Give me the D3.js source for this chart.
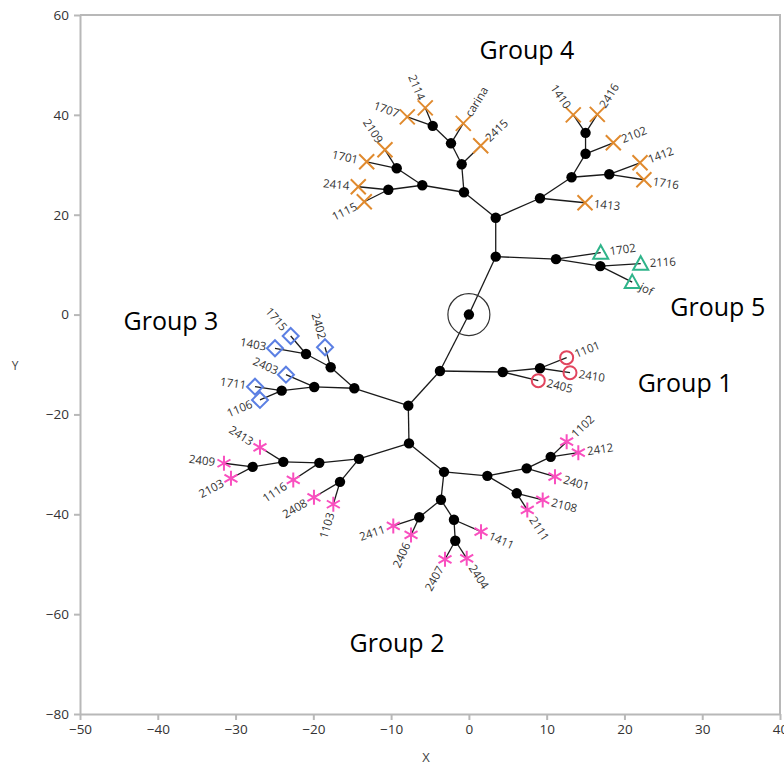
<!DOCTYPE html>
<html>
<head>
<meta charset="utf-8">
<script src="https://cdn.jsdelivr.net/npm/d3@7"></script>
<style>
  html, body { margin: 0; padding: 0; background: #fff; }
  svg { display: block; }
</style>
</head>
<body>
<svg id="chart" width="784" height="765"></svg>
<script>
// ---- Tree data: internal (branch) nodes ----
const nodeIds    = ["root","k1","i5","i4","i3","i2","i1","i6","i7","i8","j5","j3","j2","j1","j4","k2","k3",
                    "n1","n2","n3","m0","l3","l2","l1","l4","l5","q0","p4","p3","p2","p1","p5",
                    "r1","r2","r3","r4","r5","s1","s2","s3","s4"];
const nodeX      = [0, 3.45, 3.45, -0.63, -0.93, -2.30, -4.65, -5.99, -9.28, -10.36, 9.14, 13.2, 15.0, 15.0, 18.05, 11.2, 16.9,
                    -3.72, 4.35, 9.14, -7.79, -14.73, -17.77, -20.94, -19.88, -24.07, -7.70, -14.13, -19.23, -23.86, -27.80, -16.57,
                    -3.20, 2.37, 7.43, 10.52, 6.15, -3.59, -6.38, -1.92, -1.75];
const nodeY      = [0, 11.6, 19.4, 24.5, 30.1, 34.3, 37.8, 25.9, 29.3, 25.0, 23.3, 27.5, 32.2, 36.4, 28.1, 11.1, 9.7,
                    -11.3, -11.5, -10.75, -18.25, -14.76, -10.55, -7.89, -14.50, -15.24, -25.8, -28.9, -29.7, -29.5, -30.5, -33.5,
                    -31.5, -32.3, -30.8, -28.5, -35.8, -37.1, -40.6, -41.1, -45.3];
const nodeParent = [null, "root", "k1", "i5", "i4", "i3", "i2", "i4", "i6", "i6", "i5", "j5", "j3", "j2", "j3", "k1", "k2",
                    "root", "n1", "n2", "n1", "m0", "l3", "l2", "l3", "l4", "m0", "q0", "p4", "p3", "p2", "p4",
                    "q0", "r1", "r2", "r3", "r2", "r1", "s1", "s1", "s3"];

// ---- Tree data: leaves (labelled samples) ----
const leafNames  = ["1707","2114","carina","2415","2109","1701","2414","1115","1410","2416","2102","1412","1716","1413",
                    "1702","2116","jof",
                    "1715","1403","2402","2403","1711","1106",
                    "1101","2410","2405",
                    "2413","2409","2103","1116","2408","1103","2411","2406","2407","2404","1411","2111","2108","2401","1102","2412"];
const leafX      = [-7.92, -5.61, -0.72, 1.52, -10.79, -13.14, -14.22, -13.45, 13.42, 16.51, 18.57, 22.0, 22.5, 14.93,
                    16.95, 22.09, 21.0,
                    -22.91, -24.93, -18.50, -23.52, -27.5, -26.86,
                    12.57, 13.0, 8.92,
                    -26.86, -31.49, -30.59, -22.58, -19.92, -17.43, -9.72, -7.44, -3.07, -0.28, 1.56, 7.51, 9.49, 11.07, 12.57, 14.07];
const leafY      = [39.6, 41.4, 38.3, 33.8, 33.0, 30.6, 25.6, 22.6, 40.0, 40.1, 34.4, 30.4, 27.0, 22.4,
                    12.4, 10.2, 6.5,
                    -4.29, -6.75, -6.55, -12.04, -14.44, -17.10,
                    -8.63, -11.64, -13.24,
                    -26.58, -29.78, -32.79, -33.13, -36.59, -37.99, -42.34, -44.14, -49.01, -48.81, -43.48, -39.13, -37.13, -32.47, -25.46, -27.66];
const leafParent = ["i1","i1","i2","i3","i7","i7","i8","i8","j1","j1","j2","j4","j4","j5",
                    "k2","k3","k3",
                    "l1","l1","l2","l4","l5","l5",
                    "n3","n3","n2",
                    "p2","p1","p1","p3","p5","p5","s2","s2","s4","s4","s3","r5","r5","r3","r4","r4"];
const leafGroup  = [4,4,4,4,4,4,4,4,4,4,4,4,4,4,
                    5,5,5,
                    3,3,3,3,3,3,
                    1,1,1,
                    2,2,2,2,2,2,2,2,2,2,2,2,2,2,2,2];

// ---- Group annotations (data coordinates) ----
const groupIds    = [1, 2, 3, 4, 5];
const groupNames  = ["Group 1", "Group 2", "Group 3", "Group 4", "Group 5"];
const groupLabelX = [27.8, -9.24, -38.3, 7.47, 32.0];
const groupLabelY = [-13.7, -65.8, -1.3, 53.0, 1.5];

// ---- Axis ticks ----
const xTicks = [-50, -40, -30, -20, -10, 0, 10, 20, 30, 40];
const yTicks = [-80, -60, -40, -20, 0, 20, 40, 60];

// ---- Styling ----
const groupColor = {1: "#e2455e", 2: "#f94fbf", 3: "#5b7fe3", 4: "#e08a2e", 5: "#2fb48a"};
const axisColor = "#b8b8b8";
const textFont = "'Open Sans', 'Noto Sans', sans-serif";

const width = 784, height = 765;
const margin = {top: 15, right: 4, bottom: 51, left: 80};

const svg = d3.select("#chart");

const x = d3.scaleLinear().domain([-50, 40]).range([margin.left, width - margin.right]);
const y = d3.scaleLinear().domain([-80, 60]).range([height - margin.bottom, margin.top]);

// Frame (top and right borders)
svg.append("path")
  .attr("d", `M${x(-50)},${y(60)}H${x(40)}V${y(-80)}`)
  .attr("fill", "none").attr("stroke", axisColor).attr("stroke-width", 2);

// Axes
const xAxis = svg.append("g")
  .attr("transform", `translate(0,${y(-80)})`)
  .call(d3.axisBottom(x).tickValues(xTicks).tickSize(6).tickSizeOuter(0).tickPadding(4));
const yAxis = svg.append("g")
  .attr("transform", `translate(${x(-50)},0)`)
  .call(d3.axisLeft(y).tickValues(yTicks).tickSize(6).tickSizeOuter(0).tickPadding(5));
[xAxis, yAxis].forEach(g => {
  g.select(".domain").attr("stroke", axisColor).attr("stroke-width", 2);
  g.selectAll(".tick line").attr("stroke", axisColor).attr("stroke-width", 2);
  g.selectAll(".tick text").attr("fill", "#333").style("font-family", textFont).style("font-size", "13.5px");
});

// Axis titles
svg.append("text").attr("x", (x(-50) + x(40)) / 2 - 4).attr("y", 762)
  .attr("text-anchor", "middle").attr("fill", "#444")
  .style("font-family", textFont).style("font-size", "13px").text("X");
svg.append("text").attr("x", 15).attr("y", 370)
  .attr("text-anchor", "middle").attr("fill", "#444")
  .style("font-family", textFont).style("font-size", "12px").text("Y");

// Build node lookup
const pos = {};
nodeIds.forEach((id, i) => { pos[id] = {x: nodeX[i], y: nodeY[i]}; });

const plot = svg.append("g");

// Branches: internal edges, then edges to leaves
const edges = [];
nodeIds.forEach((id, i) => { if (nodeParent[i]) edges.push([pos[nodeParent[i]], pos[id]]); });
leafNames.forEach((n, i) => edges.push([pos[leafParent[i]], {x: leafX[i], y: leafY[i]}]));

plot.selectAll("line.edge").data(edges).join("line")
  .attr("class", "edge")
  .attr("x1", d => x(d[0].x)).attr("y1", d => y(d[0].y))
  .attr("x2", d => x(d[1].x)).attr("y2", d => y(d[1].y))
  .attr("stroke", "#1a1a1a").attr("stroke-width", 1.3);

// Root ring
plot.append("circle")
  .attr("cx", x(nodeX[0])).attr("cy", y(nodeY[0])).attr("r", 21)
  .attr("fill", "none").attr("stroke", "#333").attr("stroke-width", 1.2);

// Branch nodes
plot.selectAll("circle.node").data(nodeIds).join("circle")
  .attr("class", "node")
  .attr("cx", (d, i) => x(nodeX[i])).attr("cy", (d, i) => y(nodeY[i]))
  .attr("r", 5.2).attr("fill", "#000");

// Leaf markers
const leaves = leafNames.map((n, i) => ({
  name: n, x: leafX[i], y: leafY[i], parent: pos[leafParent[i]], group: leafGroup[i]
}));

function markerPath(group) {
  const s = 7.5;
  if (group === 4) return `M${-s},${-s}L${s},${s}M${-s},${s}L${s},${-s}`;
  if (group === 5) return `M0,${-s}L${s},${s * 0.8}L${-s},${s * 0.8}Z`;
  if (group === 3) return `M0,${-s - 0.5}L${s + 0.5},0L0,${s + 0.5}L${-s - 0.5},0Z`;
  if (group === 2) {
    const a = s * Math.cos(Math.PI / 6), b = s * Math.sin(Math.PI / 6);
    return `M0,${-s}L0,${s}M${-a},${-b}L${a},${b}M${-a},${b}L${a},${-b}`;
  }
  return null;
}

const mk = plot.selectAll("g.leaf").data(leaves).join("g")
  .attr("class", "leaf")
  .attr("transform", d => `translate(${x(d.x)},${y(d.y)})`);

mk.each(function(d) {
  const g = d3.select(this);
  if (d.group === 1) {
    g.append("circle").attr("r", 6.5).attr("fill", "none")
      .attr("stroke", groupColor[1]).attr("stroke-width", 2);
  } else {
    g.append("path").attr("d", markerPath(d.group)).attr("fill", "none")
      .attr("stroke", groupColor[d.group]).attr("stroke-width", 2).attr("stroke-linejoin", "miter");
  }
});

// Leaf labels, oriented along the incoming branch
plot.selectAll("text.leafLabel").data(leaves).join("text")
  .attr("class", "leafLabel")
  .each(function(d) {
    const px = x(d.x), py = y(d.y);
    const dx = px - x(d.parent.x), dy = py - y(d.parent.y);
    let ang = Math.atan2(dy, dx) * 180 / Math.PI;
    const len = Math.hypot(dx, dy);
    const off = 9;
    const tx = px + dx / len * off, ty = py + dy / len * off;
    let anchor = "start";
    if (ang > 90 || ang < -90) { ang += 180; anchor = "end"; }
    d3.select(this)
      .attr("transform", `translate(${tx},${ty}) rotate(${ang})`)
      .attr("text-anchor", anchor)
      .attr("dy", "0.35em");
  })
  .attr("fill", "#333")
  .style("font-family", textFont).style("font-size", "11.5px")
  .text(d => d.name);

// Group annotations
svg.selectAll("text.group").data(groupIds).join("text")
  .attr("class", "group")
  .attr("x", (d, i) => x(groupLabelX[i])).attr("y", (d, i) => y(groupLabelY[i]))
  .attr("text-anchor", "middle").attr("dy", "0.35em")
  .attr("fill", "#000")
  .style("font-family", textFont).style("font-size", "25px")
  .text((d, i) => groupNames[i]);
</script>
</body>
</html>
